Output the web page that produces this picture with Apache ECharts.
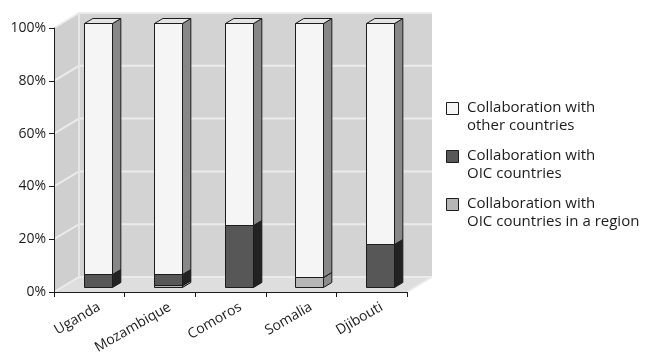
<!DOCTYPE html>
<html>
<head>
<meta charset="utf-8">
<script src="https://cdn.jsdelivr.net/npm/echarts@6/dist/echarts.min.js"></script>
<style>
  html, body { margin: 0; padding: 0; background: #ffffff; }
  #chart { width: 646px; height: 356px; }
</style>
</head>
<body>
<div id="chart"></div>
<script>
// Share of collaboration by partner group, per country (percent of total)
const categories = ['Uganda', 'Mozambique', 'Comoros', 'Somalia', 'Djibouti'];
const seriesNames = [
  'Collaboration with\nother countries',
  'Collaboration with\nOIC countries',
  'Collaboration with\nOIC countries in a region'
];
const otherShare  = [95.0, 95.0, 76.6, 96.2, 83.8];
const oicShare    = [5.0, 4.4, 23.4, 0, 16.2];
const regionShare = [0, 0.6, 0, 3.8, 0];
const yTicks = [0, 20, 40, 60, 80, 100];

const FONT = '"Open Sans", "Noto Sans", sans-serif';
const INK = '#1c1c1c';

// Pseudo-3D geometry: how far the back wall recedes (px), and where bars sit in depth
const DEPTH_X = 25, DEPTH_Y = 15;
const BAR_FRONT = 1 / 3, BAR_BACK = 2 / 3;
const BAR_WIDTH_RATIO = 0.39;

const crisp = v => Math.round(v) + 0.5;

// Stack order from the floor upward, with face/side/top shades
const stackOrder = [
  { name: seriesNames[2], values: regionShare, face: '#b6b6b6', side: '#8b8b8b', top: '#a4a4a4' },
  { name: seriesNames[1], values: oicShare,    face: '#575757', side: '#222222', top: '#3a3a3a' },
  { name: seriesNames[0], values: otherShare,  face: '#f5f5f5', side: '#878787', top: '#e4e4e4' }
];

function renderBar(shade) {
  return function (params, api) {
    const i = api.value(0), lo = api.value(1), hi = api.value(2);
    if (!(hi - lo > 0)) return null;
    const pLo = api.coord([i, lo]);
    const pHi = api.coord([i, hi]);
    const w = Math.round(api.size([1, 0])[0] * BAR_WIDTH_RATIO);
    const ox = DEPTH_X * BAR_FRONT, oy = DEPTH_Y * BAR_FRONT;
    const sx = DEPTH_X * (BAR_BACK - BAR_FRONT), sy = DEPTH_Y * (BAR_BACK - BAR_FRONT);
    const x0 = crisp(pLo[0] + ox - w / 2), x1 = x0 + w;
    const yb = crisp(pLo[1] - oy), yt = crisp(pHi[1] - oy);
    const edge = { stroke: INK, lineWidth: 1, lineJoin: 'miter' };
    return {
      type: 'group',
      children: [
        { type: 'polygon', shape: { points: [[x1, yb], [x1 + sx, yb - sy], [x1 + sx, yt - sy], [x1, yt]] },
          style: Object.assign({ fill: shade.side }, edge) },
        { type: 'polygon', shape: { points: [[x0, yt], [x1, yt], [x1 + sx, yt - sy], [x0 + sx, yt - sy]] },
          style: Object.assign({ fill: shade.top }, edge) },
        { type: 'rect', shape: { x: x0, y: yt, width: w, height: yb - yt },
          style: Object.assign({ fill: shade.face }, edge) }
      ]
    };
  };
}

// Back wall, side wall and floor, with gridlines at each y tick
function renderWalls(params, api) {
  const cs = params.coordSys;
  const x = cs.x, y = cs.y, w = cs.width, h = cs.height;
  const children = [
    { type: 'polygon', shape: { points: [[x, y], [x + DEPTH_X, y - DEPTH_Y], [x + DEPTH_X, y + h - DEPTH_Y], [x, y + h]] },
      style: { fill: '#cfcfcf' } },
    { type: 'rect', shape: { x: x + DEPTH_X, y: y - DEPTH_Y, width: w, height: h },
      style: { fill: '#d3d3d3' } },
    { type: 'polygon', shape: { points: [[x, y + h], [x + DEPTH_X, y + h - DEPTH_Y], [x + w + DEPTH_X, y + h - DEPTH_Y], [x + w, y + h]] },
      style: { fill: '#dedede' } }
  ];
  const grid = { stroke: '#ebebeb', lineWidth: 2 };
  yTicks.forEach(v => {
    const py = api.coord([0, v])[1];
    children.push({ type: 'polyline',
      shape: { points: [[x, py], [x + DEPTH_X, py - DEPTH_Y], [x + w + DEPTH_X, py - DEPTH_Y]] },
      style: Object.assign({ fill: null }, grid) });
  });
  children.push({ type: 'line',
    shape: { x1: x + DEPTH_X, y1: y - DEPTH_Y, x2: x + DEPTH_X, y2: y + h - DEPTH_Y },
    style: { stroke: '#e6e6e6', lineWidth: 2 } });
  children.push({ type: 'line',
    shape: { x1: x + w, y1: y + h, x2: x + w + DEPTH_X, y2: y + h - DEPTH_Y },
    style: { stroke: '#ececec', lineWidth: 2 } });
  return { type: 'group', children: children };
}

// Category names, placed under the front of each bar
function renderCategoryLabel(params, api) {
  const i = api.value(0);
  const p = api.coord([i, 0]);
  return {
    type: 'text',
    x: p[0] + 10,
    y: p[1] + 14,
    rotation: Math.PI / 6,
    style: { text: categories[i], align: 'right', verticalAlign: 'middle',
             fontSize: 14, fontFamily: FONT, fill: INK }
  };
}

const stackBase = categories.map(() => 0);
const barSeries = stackOrder.map(shade => {
  const data = shade.values.map((v, i) => {
    const item = [i, stackBase[i], stackBase[i] + v];
    stackBase[i] += v;
    return item;
  });
  return {
    type: 'custom', name: shade.name, clip: false, z: 3,
    encode: { x: 0, y: [1, 2] },
    renderItem: renderBar(shade), data: data
  };
});

// Legend: swatch beside a two-line caption, top entry first
const legendShades = [stackOrder[2], stackOrder[1], stackOrder[0]];
const LEGEND_LEFT = 446, LEGEND_TOP = 99, LEGEND_STEP = 48;
const legendGraphics = legendShades.map((shade, k) => ({
  type: 'group',
  left: LEGEND_LEFT,
  top: LEGEND_TOP + k * LEGEND_STEP,
  children: [
    { type: 'rect', shape: { x: 0.5, y: 0.5, width: 12, height: 12 },
      style: { fill: shade.face, stroke: INK, lineWidth: 1 } },
    { type: 'text', x: 21, y: -3,
      style: { text: shade.name, fontSize: 15, lineHeight: 18, fontFamily: FONT,
               fill: INK, verticalAlign: 'top', align: 'left' } }
  ]
}));

const chart = echarts.init(document.getElementById('chart'), null, { renderer: 'canvas' });
chart.setOption({
  animation: false,
  backgroundColor: '#ffffff',
  grid: { left: 54, top: 28, width: 353, height: 264, containLabel: false },
  xAxis: {
    type: 'category', data: categories, boundaryGap: true, z: 10,
    axisLine: { lineStyle: { color: INK, width: 1 } },
    axisTick: { show: true, length: 5, interval: 0, alignWithLabel: false, lineStyle: { color: INK } },
    axisLabel: { show: false },
    splitLine: { show: false }
  },
  yAxis: {
    type: 'value', min: yTicks[0], max: yTicks[yTicks.length - 1], interval: yTicks[1] - yTicks[0], z: 10,
    axisLine: { show: true, lineStyle: { color: INK, width: 1 } },
    axisTick: { show: true, length: 5, lineStyle: { color: INK } },
    axisLabel: { formatter: '{value}%', margin: 8, fontSize: 14, fontFamily: FONT, color: INK },
    splitLine: { show: false }
  },
  series: [
    { type: 'custom', name: 'walls', silent: true, clip: false, z: 1,
      renderItem: renderWalls, data: [[0, 0]] }
  ].concat(barSeries, [
    { type: 'custom', name: 'labels', silent: true, clip: false, z: 5,
      renderItem: renderCategoryLabel, data: categories.map((c, i) => [i, 0]) }
  ]),
  graphic: legendGraphics
});
</script>
</body>
</html>
